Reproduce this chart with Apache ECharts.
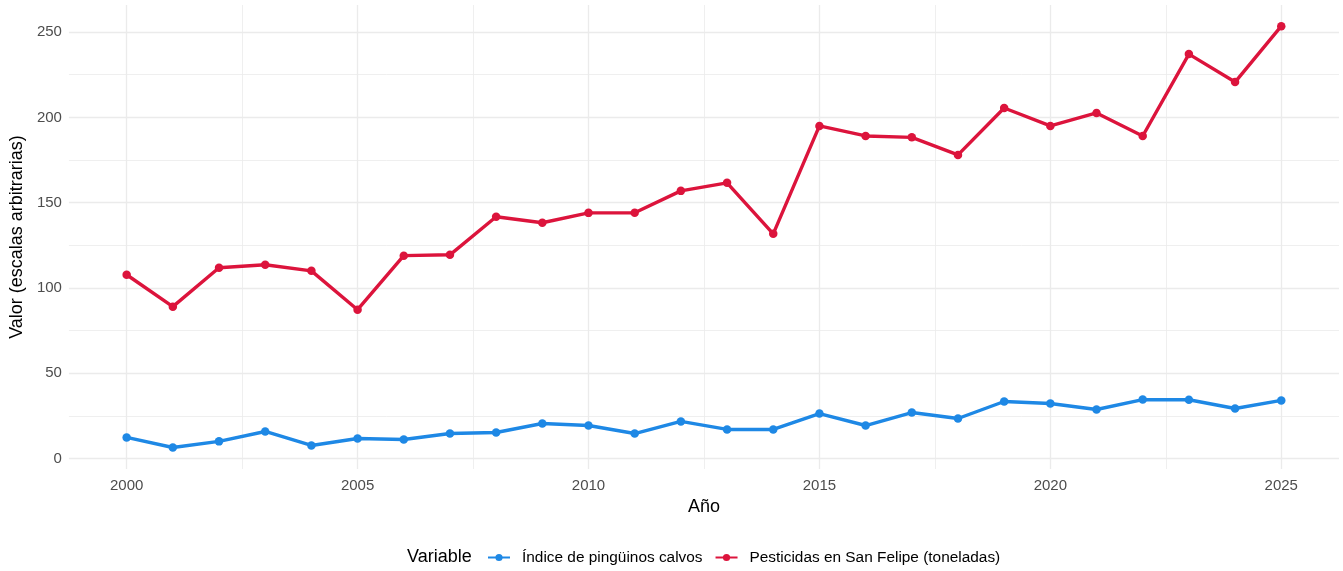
<!DOCTYPE html>
<html>
<head>
<meta charset="utf-8">
<script src="https://cdn.jsdelivr.net/npm/echarts@6/dist/echarts.min.js"></script>
<style>
  html, body { margin: 0; padding: 0; background: #fff; }
  #chart { width: 1343px; height: 571px; }
</style>
</head>
<body>
<div id="chart"></div>
<script>
// datos
const years = [2000, 2001, 2002, 2003, 2004, 2005, 2006, 2007, 2008, 2009, 2010, 2011, 2012,
  2013, 2014, 2015, 2016, 2017, 2018, 2019, 2020, 2021, 2022, 2023, 2024, 2025]
const pinguinos = [12.3, 6.4, 10.0, 15.8, 7.6, 11.7, 11.1, 14.6, 15.2, 20.5, 19.3, 14.6, 21.7,
  17.0, 17.0, 26.3, 19.3, 26.9, 23.4, 33.4, 32.2, 28.7, 34.5, 34.4, 29.3, 34.0]
const pesticidas = [107.7, 89.0, 111.8, 113.6, 110.0, 87.2, 118.9, 119.4, 141.7, 138.2, 144.0, 144.1, 156.9,
  161.6, 131.7, 195.0, 189.1, 188.3, 178.0, 205.5, 195.0, 202.6, 189.1, 237.1, 220.7, 253.5]
const xTicks = [2000, 2005, 2010, 2015, 2020, 2025]
const xMinorTicks = [2002.5, 2007.5, 2012.5, 2017.5, 2022.5]
const yTicks = [0, 50, 100, 150, 200, 250]
const yMinorTicks = [25, 75, 125, 175, 225]

const nombres = ['Índice de pingüinos calvos', 'Pesticidas en San Felipe (toneladas)']
const colores = ['#1E88E5', '#DC143C']

const font = 'Liberation Sans, Arial, sans-serif'
const gridColor = '#EBEBEB'
const xMin = 1998.75, xMax = 2026.25
const yMin = -6.2, yMax = 265.9

const toPairs = (vals) => years.map((y, i) => [y, vals[i]])

const serie = (idx, vals) => ({
  name: nombres[idx],
  type: 'line',
  data: toPairs(vals),
  symbol: 'circle',
  symbolSize: 8.5,
  lineStyle: { width: 3.4, color: colores[idx] },
  itemStyle: { color: colores[idx] },
  emphasis: { disabled: true },
  animation: false
})

const hiddenAxis = (min, max, ticks) => ({
  type: 'value',
  min: min,
  max: max,
  axisLine: { show: false },
  axisTick: { show: false, customValues: ticks },
  axisLabel: { show: false, customValues: ticks },
  splitLine: { show: true, lineStyle: { color: gridColor, width: 0.8 } }
})

let options = {
  backgroundColor: '#fff',
  grid: { left: 67, right: 4, top: 5, bottom: 102 },
  xAxis: [
    {
      type: 'value',
      min: xMin,
      max: xMax,
      name: 'Año',
      nameLocation: 'middle',
      nameGap: 26,
      nameTextStyle: { color: '#000', fontSize: 18, fontFamily: font },
      axisLine: { show: false },
      axisTick: { show: false, customValues: xTicks },
      axisLabel: {
        customValues: xTicks, color: '#4D4D4D', fontSize: 15, fontFamily: font, margin: 9,
        formatter: (v) => String(v)
      },
      splitLine: { show: true, lineStyle: { color: gridColor, width: 1.3 } }
    },
    hiddenAxis(xMin, xMax, xMinorTicks)
  ],
  yAxis: [
    {
      type: 'value',
      min: yMin,
      max: yMax,
      name: 'Valor (escalas arbitrarias)',
      nameLocation: 'middle',
      nameGap: 39,
      nameTextStyle: { color: '#000', fontSize: 18, fontFamily: font },
      axisLine: { show: false },
      axisTick: { show: false, customValues: yTicks },
      axisLabel: { customValues: yTicks, color: '#4D4D4D', fontSize: 15, fontFamily: font, margin: 7 },
      splitLine: { show: true, lineStyle: { color: gridColor, width: 1.3 } }
    },
    hiddenAxis(yMin, yMax, yMinorTicks)
  ],
  legend: {
    data: nombres,
    left: 487,
    top: 550,
    padding: 0,
    itemWidth: 22,
    itemHeight: 9,
    itemGap: 12,
    textStyle: { color: '#000', fontSize: 15.4, fontFamily: font, padding: [0, 0, 0, 7] }
  },
  graphic: [
    {
      type: 'text',
      left: 407,
      top: 548,
      style: { text: 'Variable', fontSize: 18, fontFamily: font, fill: '#000' }
    }
  ],
  series: [serie(0, pinguinos), serie(1, pesticidas)]
}

let myChart = echarts.init(document.getElementById('chart'))
myChart.setOption(options)
</script>
</body>
</html>
